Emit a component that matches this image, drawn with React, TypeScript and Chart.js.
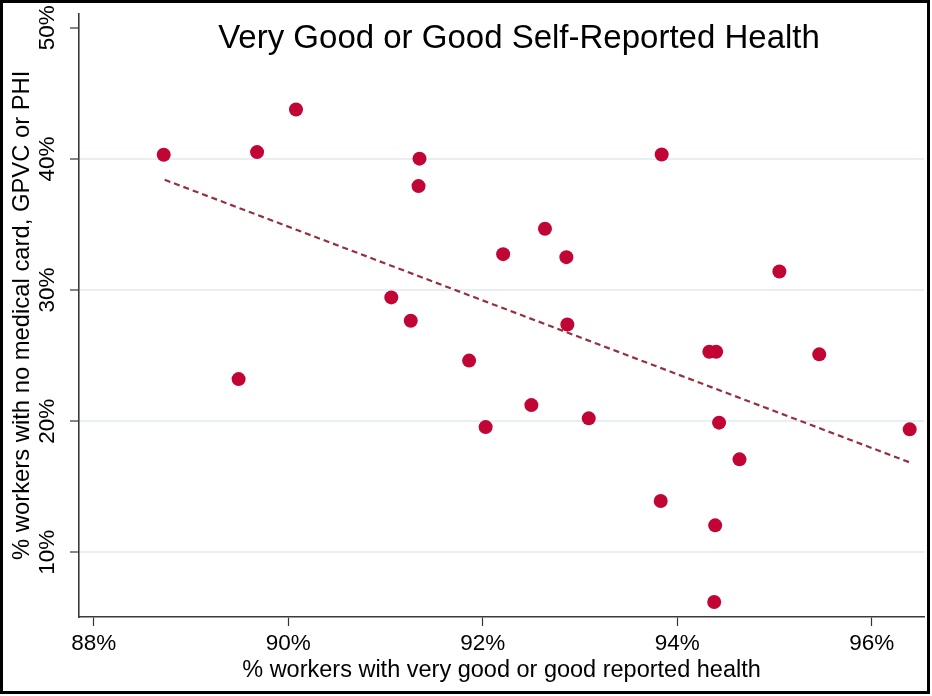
import React, { useEffect, useRef } from "react";
import { Chart, registerables } from "chart.js";

Chart.register(...registerables);

const chartTitle = "Very Good or Good Self-Reported Health";
const xAxisTitle = "% workers with very good or good reported health";
const yAxisTitle = "% workers with no medical card, GPVC or PHI";

const healthPct = [
  88.72, 89.49, 89.68, 90.08, 91.06, 91.26, 91.35, 91.34, 91.86, 92.03,
  92.21, 92.5, 92.64, 92.86, 92.87, 93.09, 93.84, 93.83, 94.33, 94.4,
  94.39, 94.43, 94.38, 94.64, 95.05, 95.46, 96.39,
];
const noCardPct = [
  40.32, 23.21, 40.52, 43.77, 29.44, 27.66, 40.02, 37.93, 24.62, 19.55,
  32.74, 21.23, 34.68, 32.51, 27.38, 20.22, 40.34, 13.91, 25.3, 25.3,
  12.06, 19.89, 6.21, 17.09, 31.42, 25.1, 19.38,
];
const fitX = [88.73, 96.39];
const fitY = [38.41, 16.86];
const xTicks = [88, 90, 92, 94, 96];
const yTicks = [10, 20, 30, 40, 50];

const FONT = "'Liberation Sans', Arial, Helvetica, sans-serif";

export default function App() {
  const ref = useRef<HTMLCanvasElement | null>(null);

  useEffect(() => {
    if (!ref.current) return;
    const decor = {
      id: "decor",
      afterDraw(chart: any) {
        const ctx = chart.ctx;
        ctx.save();
        ctx.font = `33px ${FONT}`;
        ctx.fillStyle = "#000";
        ctx.textAlign = "center";
        ctx.textBaseline = "alphabetic";
        ctx.fillText(chartTitle, 519, 48);
        ctx.lineWidth = 3;
        ctx.strokeStyle = "#000";
        ctx.strokeRect(1.5, 1.5, 927, 691);
        ctx.restore();
      },
    };
    const chart = new Chart(ref.current, {
      type: "scatter",
      data: {
        datasets: [
          {
            type: "line",
            data: fitX.map((x, i) => ({ x, y: fitY[i] })),
            borderColor: "#96303f",
            borderWidth: 2.2,
            borderDash: [6, 4],
            pointRadius: 0,
            fill: false,
          } as any,
          {
            data: healthPct.map((x, i) => ({ x, y: noCardPct[i] })),
            backgroundColor: "#c10534",
            borderColor: "#c10534",
            borderWidth: 0,
            pointRadius: 7,
          },
        ],
      },
      options: {
        responsive: false,
        animation: false,
        events: [],
        layout: { padding: { left: 0, top: 13, right: 8, bottom: 0 } },
        plugins: {
          legend: { display: false },
          tooltip: { enabled: false },
        },
        scales: {
          x: {
            type: "linear",
            min: 87.849,
            max: 96.537,
            afterBuildTicks: (s: any) => {
              s.ticks = xTicks.map((v) => ({ value: v }));
            },
            afterFit: (s: any) => {
              s.height = 79;
            },
            grid: {
              drawOnChartArea: false,
              tickLength: 9,
              tickColor: "#333",
              tickWidth: 1.2,
            },
            border: { color: "#3a3a3a", width: 1.6 },
            ticks: {
              padding: 4,
              color: "#000",
              font: { family: FONT, size: 22.5 },
              callback: (v: any) => `${v}%`,
              maxRotation: 0,
              minRotation: 0,
            },
            title: {
              display: true,
              text: xAxisTitle,
              color: "#000",
              font: { family: FONT, size: 23.5 },
              padding: { top: 0, bottom: 11 },
            },
          },
          y: {
            type: "linear",
            min: 5.07,
            max: 51.09,
            afterBuildTicks: (s: any) => {
              s.ticks = yTicks.map((v) => ({ value: v }));
            },
            afterFit: (s: any) => {
              s.width = 79;
            },
            grid: {
              color: (c: any) =>
                c.tick && c.tick.value === 50 ? "rgba(0,0,0,0)" : "#e8eff2",
              lineWidth: 2,
              tickLength: 9,
              tickColor: "#333",
              tickWidth: 1.2,
            },
            border: { color: "#3a3a3a", width: 1.6 },
            ticks: {
              padding: 0,
              color: "#000",
              font: { family: FONT, size: 22.5 },
              callback: (v: any) => `${v}%`,
              minRotation: 90,
              maxRotation: 90,
              crossAlign: "center",
            },
            title: {
              display: true,
              text: yAxisTitle,
              color: "#000",
              font: { family: FONT, size: 23.8 },
              padding: { top: 8, bottom: 0 },
            },
          },
        },
      },
      plugins: [decor],
    } as any);
    return () => chart.destroy();
  }, []);

  return (
    <div style={{ position: "absolute", left: 0, top: 0, width: 932, height: 696, background: "#fff" }}>
      <canvas ref={ref} width={932} height={696} style={{ display: "block", width: 932, height: 696 }} />
    </div>
  );
}
